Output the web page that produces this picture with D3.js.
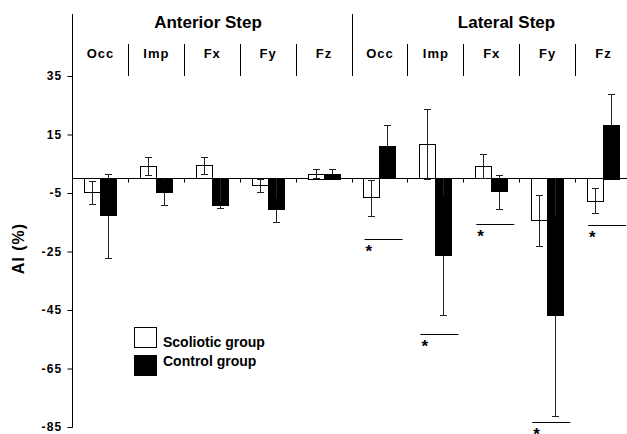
<!DOCTYPE html>
<html>
<head>
<meta charset="utf-8">
<script src="https://cdn.jsdelivr.net/npm/d3@7"></script>
<style>
  html, body { margin: 0; padding: 0; background: #fff; }
  svg { display: block; font-family: "Liberation Sans", Arial, sans-serif; }
</style>
</head>
<body>
<svg id="chart" width="627" height="434"></svg>
<script>
// ---- data ----
const steps = ["Anterior Step", "Lateral Step"];
const categories = ["Occ", "Imp", "Fx", "Fy", "Fz"];
const groups = ["A-Occ","A-Imp","A-Fx","A-Fy","A-Fz","L-Occ","L-Imp","L-Fx","L-Fy","L-Fz"];
const groupLabels = ["Occ","Imp","Fx","Fy","Fz","Occ","Imp","Fx","Fy","Fz"];
const scolioticMean = [-4.7, 4.1, 4.5, -2.5, 1.6, -6.6, 11.7, 4.2, -14.4, -7.7];
const scolioticErr  = [3.9, 3.1, 2.9, 2.2, 1.5, 6.2, 11.9, 4.2, 8.6, 4.3];
const controlMean   = [-12.8, -4.8, -9.1, -10.5, 1.6, 11.1, -26.2, -4.5, -47.0, 18.4];
const controlErr    = [14.3, 4.3, 1.0, 4.3, 1.5, 7.3, 20.4, 5.8, 34.2, 10.3];
const sigLevel      = [null, null, null, null, null, -20.8, -53.3, -15.6, -83.4, -15.9];
const yTicks = [35, 15, -5, -25, -45, -65, -85];
const seriesNames = ["Scoliotic group", "Control group"];

// ---- layout ----
const svg = d3.select("#chart");
const x = d3.scaleBand().domain(groups).range([72, 631]).padding(0);
const y = d3.scaleLinear().domain([-85, 35]).range([427, 76]);
const barW = 16;
const topVal = 56.2;

// y axis
const yAxis = d3.axisLeft(y).tickValues(yTicks).tickSize(5).tickFormat(d => String(d));
const gy = svg.append("g").attr("transform", "translate(72.5,0)").call(yAxis);
gy.select(".domain").remove();
gy.selectAll(".tick line").attr("stroke", "#000");
gy.selectAll(".tick text").attr("x", -10).attr("font-size", 12).attr("font-weight", "bold")
  .attr("letter-spacing", 1.2).attr("fill", "#000").attr("font-family", "Liberation Sans, Arial, sans-serif");
svg.append("line").attr("x1", 72.5).attr("x2", 72.5).attr("y1", y(topVal)).attr("y2", y(-85) + 0.5)
  .attr("stroke", "#000");

// baseline at zero
const y0 = Math.round(y(0)) + 0.5;
svg.append("line").attr("x1", 72).attr("x2", 631).attr("y1", y0).attr("y2", y0).attr("stroke", "#000");
// small ticks at group boundaries
groups.slice(1).forEach(g => {
  const xx = Math.round(x(g)) + 0.5;
  svg.append("line").attr("x1", xx).attr("x2", xx).attr("y1", y0).attr("y2", y0 + 4).attr("stroke", "#000");
});

// separators at top
groups.slice(1).forEach((g, i) => {
  const xx = Math.round(x(g)) + 0.5;
  const big = g === "L-Occ";
  svg.append("line").attr("x1", xx).attr("x2", xx)
    .attr("y1", big ? y(topVal) : 44).attr("y2", 76).attr("stroke", "#000");
});

// headers
const aStart = x("A-Occ"), lStart = x("L-Occ");
svg.append("text").attr("x", aStart + 136).attr("y", 28).attr("text-anchor", "middle")
  .attr("font-size", 17).attr("font-weight", "bold").text(steps[0]);
svg.append("text").attr("x", lStart + 155).attr("y", 28).attr("text-anchor", "middle")
  .attr("font-size", 17).attr("font-weight", "bold").text(steps[1]);

// category labels
svg.selectAll(".cat").data(groups).enter().append("text")
  .attr("x", g => x(g) + x.bandwidth() / 2 + 0.5).attr("y", 58)
  .attr("text-anchor", "middle").attr("font-size", 13).attr("font-weight", "bold")
  .attr("letter-spacing", 1).text((g, i) => groupLabels[i]);

// bars
function bar(mean, xoff, fill) {
  svg.append("g").selectAll("rect").data(groups).enter().append("rect")
    .attr("x", g => Math.round(x(g) + x.bandwidth() / 2 + xoff) + 0.5)
    .attr("width", barW)
    .attr("y", (g, i) => Math.round(y(Math.max(0, mean[i]))) + 0.5)
    .attr("height", (g, i) => Math.max(1, Math.round(Math.abs(y(mean[i]) - y(0)))))
    .attr("fill", fill).attr("stroke", "#000").attr("stroke-width", 1);
}
function errs(mean, err, xoff) {
  const g = svg.append("g").attr("stroke", "#222").attr("stroke-width", 1);
  groups.forEach((gr, i) => {
    const cx = Math.round(x(gr) + x.bandwidth() / 2 + xoff + barW / 2) + 0.5;
    const yHi = Math.round(y(mean[i] + err[i])) + 0.5;
    const yLo = Math.round(y(mean[i] - err[i])) + 0.5;
    g.append("line").attr("x1", cx).attr("x2", cx).attr("y1", yHi).attr("y2", yLo);
    g.append("line").attr("x1", cx - 3.5).attr("x2", cx + 3.5).attr("y1", yHi).attr("y2", yHi);
    g.append("line").attr("x1", cx - 3.5).attr("x2", cx + 3.5).attr("y1", yLo).attr("y2", yLo);
  });
  return g;
}
bar(scolioticMean, -barW, "#fff");
errs(scolioticMean, scolioticErr, -barW);
errs(controlMean, controlErr, 0);
bar(controlMean, 0, "#000");
// redraw visible parts of control error bars outside black bars
(function() {
  const g = svg.append("g").attr("stroke", "#222");
  groups.forEach((gr, i) => {
    const cx = Math.round(x(gr) + x.bandwidth() / 2 + barW / 2) + 0.5;
    const yHi = Math.round(y(controlMean[i] + controlErr[i])) + 0.5;
    const yLo = Math.round(y(controlMean[i] - controlErr[i])) + 0.5;
    const yEnd = Math.round(y(controlMean[i])) + 0.5;
    if (controlMean[i] >= 0) {
      g.append("line").attr("x1", cx).attr("x2", cx).attr("y1", yHi).attr("y2", yEnd);
    } else {
      g.append("line").attr("x1", cx).attr("x2", cx).attr("y1", yEnd).attr("y2", yLo);
      g.append("line").attr("x1", cx).attr("x2", cx).attr("y1", yHi).attr("y2", Math.min(y0, yEnd));
    }
  });
})();

// significance markers
groups.forEach((gr, i) => {
  if (sigLevel[i] === null) return;
  const yy = Math.round(y(sigLevel[i])) + 0.5;
  const xs = x(gr) + 13, xe = Math.min(627, x(gr) + 51);
  svg.append("line").attr("x1", xs).attr("x2", xe).attr("y1", yy).attr("y2", yy).attr("stroke", "#000");
  svg.append("text").attr("x", xs + 1).attr("y", yy + 17).attr("font-size", 17).attr("font-weight", "bold").text("*");
});

// y title
svg.append("text").attr("transform", "translate(24,248.5) rotate(-90)")
  .attr("text-anchor", "middle").attr("font-size", 16).attr("font-weight", "bold")
  .attr("letter-spacing", 1).text("AI (%)");

// legend
const leg = svg.append("g");
seriesNames.forEach((s, i) => {
  leg.append("rect").attr("x", 134.5).attr("y", 327.5 + i * 28).attr("width", 22).attr("height", 20)
    .attr("fill", i === 0 ? "#fff" : "#000").attr("stroke", "#000");
  leg.append("text").attr("x", 163).attr("y", 347 + i * 19).attr("font-size", 14)
    .attr("font-weight", "bold").text(s);
});
</script>
</body>
</html>
